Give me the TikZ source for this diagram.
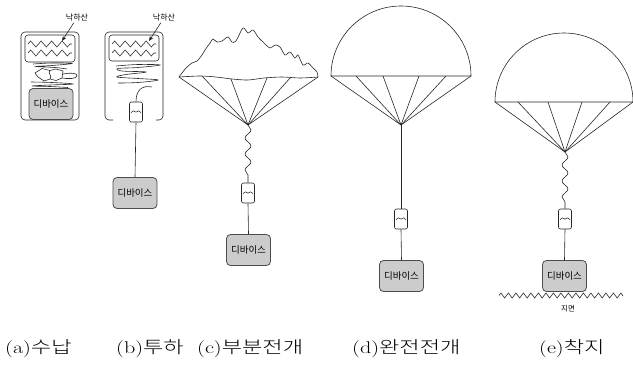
\documentclass[tikz,border=0pt]{standalone}
\usepackage{fontspec}
\newfontfamily\krfont{Noto Sans CJK KR}
\newfontfamily\krlight{Noto Sans CJK KR Light}
\usetikzlibrary{decorations.pathmorphing,arrows.meta}

\tikzset{
  thinline/.style={line width=0.6pt, draw=black!85},
  device/.style={draw=black!70, fill=black!20, rounded corners=4pt,
    minimum width=44pt, minimum height=31pt, inner sep=0pt, line width=0.8pt,
    font=\krfont\fontsize{9.5}{10}\selectfont},
  riser/.style={draw=black!85, fill=white, rounded corners=2pt, line width=0.6pt,
    minimum width=13pt, minimum height=20pt, inner sep=0pt,
    path picture={\draw[line width=0.5pt] (path picture bounding box.center)
      ++(-5,1) -- ++(2.5,-3) -- ++(2.5,3) -- ++(2.5,-3) -- ++(2.5,3);}},
  wavy/.style={thinline, decorate, decoration={snake, segment length=16pt, amplitude=3pt}},
  packzig/.style={thinline, decorate, decoration={zigzag, segment length=10.5pt, amplitude=3pt}},
  groundzig/.style={thinline, decorate, decoration={zigzag, segment length=7.5pt, amplitude=2.5pt}},
  tag/.style={font=\krfont\fontsize{8}{9}\selectfont, inner sep=0pt},
  caption/.style={font=\fontsize{17}{19}\selectfont, inner sep=0pt, anchor=west},
  pointer/.style={thinline, -{Stealth[length=5pt, width=4pt]}},
}

% caption text: roman label followed by Korean, set slightly wide
\newcommand{\capt}[2]{\scalebox{1.3}[1]{#1{\krlight #2}}}

\begin{document}
\begin{tikzpicture}[x=1pt, y=-1pt]
\useasboundingbox (0,0) rectangle (633,367);

% ---------- (a) stowed ----------
\draw[thinline, rounded corners=4pt] (21,32) rectangle (79,120);
\draw[thinline, rounded corners=3pt] (25,35) rectangle (75,62);
\draw[packzig] (28,44) -- (72,44);
\draw[packzig] (28,53) -- (72,53);
\node[tag] (la) at (77,18) {낙하산};
\coordinate (pa) at (62,41);
\draw[pointer] (la.south west) ++(8,1) -- (pa);
% folded lines and crumpled riser
\draw[thinline] plot[smooth, tension=0.6] coordinates
  {(33,64) (52,63) (72,63.5) (52,65.5) (36,66.5) (55,67.5) (67,69)};
\draw[thinline, line join=round] (35,73) -- (42,68.5) -- (50,70.5) -- (56,69) -- (63,71) -- (62,78)
  -- (56,80.5) -- (50,79) -- (44,81) -- (38,77) -- cycle;
\draw[thinline] (50,70.5) .. controls (47,73) and (53,76) .. (50,79);
\draw[thinline] (63,74) .. controls (70,72.5) and (78,73) .. (77,76)
  .. controls (76,79) and (68,79) .. (62,78);
\draw[thinline] plot[smooth, tension=0.6] coordinates
  {(31,82) (52,82.5) (73,84) (50,85) (32,86) (50,86.5) (68,87.5)};
\node[device] (da) at (51,104) {디바이스};

% ---------- (b) dropped ----------
\draw[thinline, rounded corners=4pt] (113,120) -- (105,120) -- (105,32) -- (163,32) -- (163,120) -- (156,120);
\draw[thinline, rounded corners=3pt] (109,35) rectangle (159,61);
\draw[packzig] (112,44) -- (156,44);
\draw[packzig] (112,53) -- (156,53);
\node[tag] (lb) at (164,18) {낙하산};
\coordinate (pb) at (149,41);
\draw[pointer] (lb.south west) ++(8,1) -- (pb);
\draw[thinline] plot[smooth, tension=0.6] coordinates
  {(116,66) (138,64.5) (160,65) (138,67.5) (118,68.5) (122,71) (146,72) (126,74.5)
   (117,77) (138,78.5) (158,80) (138,82.5) (118,83)};
\node[riser] (rb) at (136,112) {};
\node[device] (db) at (135,193) {디바이스};
\coordinate (tb) at (152,87);
\draw[thinline] (tb) .. controls (142,85) and (136,90) .. (rb.north);
\draw[thinline] (rb.south) -- (db.north);

% ---------- (c) partial deployment ----------
\coordinate (ac) at (248,125);
\draw[thinline] plot[smooth, tension=0.5] coordinates
  {(179,77) (186,68) (192,63) (197,61) (202,55) (205,50) (210,43) (213,39) (217,42)
   (222,41) (228,37) (232,42) (236,41) (243,28) (248,33) (253,30) (258,37) (263,42)
   (270,48) (275,45) (280,47) (285,55) (290,52) (295,58) (298,55) (303,65) (308,63)
   (313,68) (317,72) (318,77)};
\draw[thinline] plot[smooth, tension=0.5] coordinates
  {(179,77) (200,76) (216,77) (232,79) (248,80) (264,78) (282,77) (300,78) (318,77)};
\foreach \bx/\by in {179/77, 202/76, 231/79, 267/78, 291/77, 318/77}
  \draw[thinline] (\bx,\by) -- (ac);
\node[riser] (rc) at (248,193) {};
\node[device] (dc) at (248.5,250) {디바이스};
\draw[wavy] (ac) -- (rc.north);
\draw[thinline] (rc.south) -- (dc.north);

% ---------- (d) full deployment ----------
\coordinate (ad) at (401,125);
\draw[thinline] (331,76) arc[start angle=180, end angle=360, radius=70] -- cycle;
\foreach \dx in {-70,-45,-18,18,45,70}
  \draw[thinline] (401+\dx,76) -- (ad);
\node[riser] (rd) at (401,219) {};
\node[device] (dd) at (401.5,276) {디바이스};
\draw[thinline] (ad) -- (rd.north);
\draw[thinline] (rd.south) -- (dd.north);

% ---------- (e) landing ----------
\coordinate (ae) at (565,152);
\draw[thinline] (495,102) arc[start angle=180, end angle=360, radius=69] -- cycle;
\foreach \dx in {-69,-46,-16,18,46,69}
  \draw[thinline] (564+\dx,102) -- (ae);
\node[riser] (re) at (565,219) {};
\node[device] (de) at (564.5,276) {디바이스};
\draw[wavy] (ae) -- (re.north);
\draw[thinline] (re.south) -- (de.north);
\draw[groundzig] (499,295.5) -- (623,295.5);
\node[tag, font=\krfont\fontsize{7.5}{8}\selectfont] (gnd) at (568,309) {지면};

% ---------- captions ----------
\node[caption] (ca) at (5,349) {\capt{(a)}{수납}};
\node[caption] (cb) at (116,349) {\capt{(b)}{투하}};
\node[caption] (cc) at (197,349) {\capt{(c)}{부분전개}};
\node[caption] (cd) at (352,349) {\capt{(d)}{완전전개}};
\node[caption] (ce) at (539,349) {\capt{(e)}{착지}};
\end{tikzpicture}
\end{document}
